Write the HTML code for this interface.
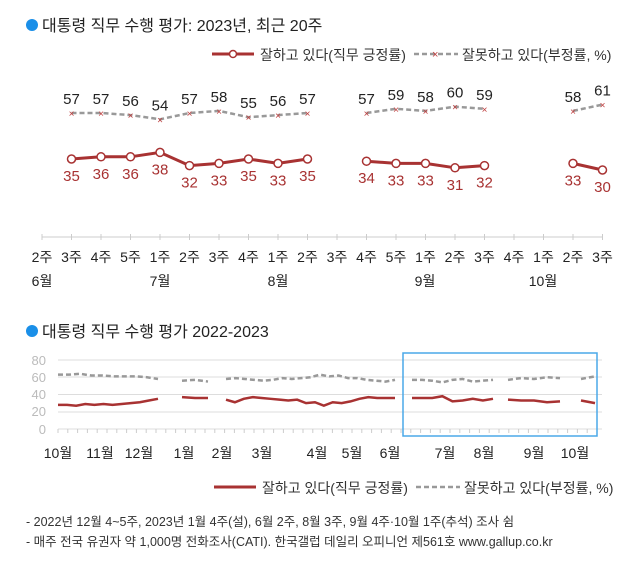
<!DOCTYPE html>
<html><head><meta charset="utf-8"><style>
body{margin:0;background:#fff;width:627px;height:565px;overflow:hidden;font-family:"Liberation Sans","Noto Sans CJK KR",sans-serif;}
svg{display:block}
</style></head><body>
<svg id="s" width="627" height="565" xmlns="http://www.w3.org/2000/svg" font-family="Liberation Sans, Noto Sans CJK KR, sans-serif">
<circle cx="32" cy="25" r="6" fill="#1a8fe8"/>
<text x="42" y="31" font-size="16" fill="#222">대통령 직무 수행 평가: 2023년, 최근 20주</text>
<line x1="212" y1="54" x2="254" y2="54" stroke="#a83232" stroke-width="3"/>
<circle cx="233" cy="54" r="3.5" fill="#fff" stroke="#a83232" stroke-width="1.5"/>
<text x="260" y="60" font-size="14" fill="#333">잘하고 있다(직무 긍정률)</text>
<line x1="414" y1="54" x2="458" y2="54" stroke="#999" stroke-width="2.5" stroke-dasharray="5,3"/>
<text x="432" y="58" font-size="11" fill="#c04040">×</text>
<text x="462" y="60" font-size="14" fill="#333">잘못하고 있다(부정률, %)</text>
<line x1="42" y1="237" x2="603" y2="237" stroke="#ccc"/>
<g id="topg"></g>
<circle cx="32" cy="331" r="6" fill="#1a8fe8"/>
<text x="42" y="337" font-size="16" fill="#222">대통령 직무 수행 평가 2022-2023</text>
<g font-size="13" fill="#bbb" text-anchor="end">
<text x="46" y="365">80</text><text x="46" y="382">60</text><text x="46" y="399">40</text><text x="46" y="416">20</text><text x="46" y="434">0</text></g>
<g stroke="#ddd"><line x1="58" y1="360" x2="602" y2="360"/><line x1="58" y1="377" x2="602" y2="377"/><line x1="58" y1="394.5" x2="602" y2="394.5"/><line x1="58" y1="412" x2="602" y2="412"/><line x1="58" y1="429" x2="602" y2="429"/></g>
<g id="bt"></g>
<rect x="403" y="353" width="194" height="83" fill="none" stroke="#4aa8e8" stroke-width="1.5"/>
<g font-size="14" fill="#222" text-anchor="middle">
<text x="58" y="458">10월</text><text x="100" y="458">11월</text><text x="139" y="458">12월</text><text x="184" y="458">1월</text><text x="222" y="458">2월</text><text x="262" y="458">3월</text><text x="317" y="458">4월</text><text x="352" y="458">5월</text><text x="390" y="458">6월</text><text x="445" y="458">7월</text><text x="484" y="458">8월</text><text x="534" y="458">9월</text><text x="575" y="458">10월</text></g>
<line x1="214" y1="487" x2="256" y2="487" stroke="#a83232" stroke-width="3"/>
<text x="262" y="493" font-size="14" fill="#333">잘하고 있다(직무 긍정률)</text>
<line x1="416" y1="487" x2="460" y2="487" stroke="#999" stroke-width="2.5" stroke-dasharray="5,3"/>
<text x="464" y="493" font-size="14" fill="#333">잘못하고 있다(부정률, %)</text>
<text x="26" y="526" font-size="12.5" fill="#333">- 2022년 12월 4~5주, 2023년 1월 4주(설), 6월 2주, 8월 3주, 9월 4주·10월 1주(추석) 조사 쉼</text>
<text x="26" y="546" font-size="12.5" fill="#333">- 매주 전국 유권자 약 1,000명 전화조사(CATI). 한국갤럽 데일리 오피니언 제561호 www.gallup.co.kr</text>
</svg>
<script>
(function(){
var NS="http://www.w3.org/2000/svg";
function el(p,t,a,tx){var e=document.createElementNS(NS,t);for(var k in a)e.setAttribute(k,a[k]);if(tx!=null)e.textContent=tx;p.appendChild(e);return e;}
var tg=document.getElementById('topg');
var wk=["2주","3주","4주","5주","1주","2주","3주","4주","1주","2주","3주","4주","5주","1주","2주","3주","4주","1주","2주","3주"];
function X(i){return 42+i*29.5;}
wk.forEach(function(w,i){el(tg,'line',{x1:X(i),y1:234,x2:X(i),y2:240,stroke:'#ccc'});el(tg,'text',{x:X(i),y:262,'font-size':14,'text-anchor':'middle',fill:'#222'},w);});
[["6월",42],["7월",160],["8월",278],["9월",425],["10월",543]].forEach(function(m){el(tg,'text',{x:m[1],y:286,'font-size':14,'text-anchor':'middle',fill:'#222'},m[0]);});
var P=[null,35,36,36,38,32,33,35,33,35,null,34,33,33,31,32,null,null,33,30];
var N=[null,57,57,56,54,57,58,55,56,57,null,57,59,58,60,59,null,null,58,61];
function py(v){return 159-(v-35)*2.2;}function ny(v){return 113-(v-57)*2.1;}
function segs(arr,f,attrs){var cur=[];for(var i=0;i<=arr.length;i++){if(i<arr.length&&arr[i]!=null)cur.push(X(i)+','+f(arr[i]));else{if(cur.length>1)el(tg,'polyline',Object.assign({points:cur.join(' '),fill:'none'},attrs));cur=[];}}}
segs(N,ny,{stroke:'#999','stroke-width':2.5,'stroke-dasharray':'5,3'});
segs(P,py,{stroke:'#a83232','stroke-width':3});
N.forEach(function(v,i){if(v==null)return;el(tg,'text',{x:X(i),y:ny(v)+4,'font-size':10,'text-anchor':'middle',fill:'#c04040'},'×');el(tg,'text',{x:X(i),y:ny(v)-9,'font-size':15,'text-anchor':'middle',fill:'#222'},v);});
P.forEach(function(v,i){if(v==null)return;el(tg,'circle',{cx:X(i),cy:py(v),r:4,fill:'#fff',stroke:'#a83232','stroke-width':1.5});el(tg,'text',{x:X(i),y:py(v)+22,'font-size':15,'text-anchor':'middle',fill:'#a83232'},v);});
var bt=document.getElementById('bt');
for(var x=58;x<=602;x+=9.8)el(bt,'line',{x1:x,y1:429,x2:x,y2:433,stroke:'#ccc'});
function by(v){return 429-v*69/80;}
var S=[[58,158,[28,28,27,29,28,29,28,29,30,31,33,35],[63,63,64,62,62,61,61,61,60,58]],
[182,208,[37,36,36],[56,57,55]],
[226,395,[34,31,35,37,36,35,34,33,34,30,31,27,31,30,32,35,37,36,36,36],[58,59,58,57,56,57,59,58,59,60,63,61,62,59,59,57,56,55,57]],
[412,493,[36,36,36,38,32,33,35,33,35],[57,57,56,54,57,58,55,56,57]],
[508,560,[34,33,33,31,32],[57,59,58,60,59]],
[581,595,[33,30],[58,61]]];
S.forEach(function(s){
 function pl(a,attrs){var pts=a.map(function(v,i){return (s[0]+(s[1]-s[0])*i/(a.length-1))+','+by(v);});el(bt,'polyline',Object.assign({points:pts.join(' '),fill:'none'},attrs));}
 pl(s[3],{stroke:'#999','stroke-width':2.5,'stroke-dasharray':'5,3'});
 pl(s[2],{stroke:'#a83232','stroke-width':2.5});
});
})();
</script>
</body></html>
